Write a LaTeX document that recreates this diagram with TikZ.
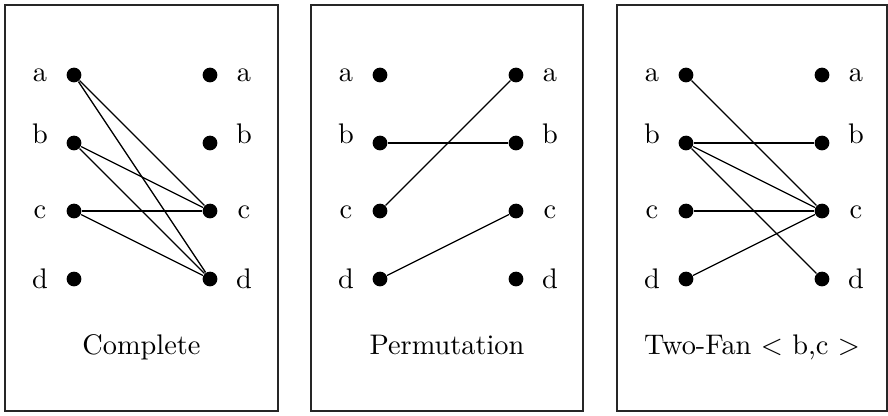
\documentclass[tikz,border=0pt]{standalone}
\usepackage{tikz}
\usetikzlibrary{calc}
\tikzset{
  matchdot/.style={circle,fill=black,inner sep=0pt,minimum size=5.2pt},
  matchlink/.style={black,line width=0.45pt},
  matchbox/.style={black!85,line width=0.55pt},
  matchtag/.style={anchor=base,inner sep=0pt}
}
\newcommand{\matchpanel}[4]{%
  \draw[matchbox] (#2,5) rectangle (#3,411);
  % Labels sit a little off the dot rows, as in the scanned figure.
  \foreach \r/\yy/\yl in {a/75/81,b/143/143,c/211/218,d/279/288} {
    \node[matchdot] (#1L\r) at (#2+69,\yy) {};
    \node[matchdot] (#1R\r) at (#2+205,\yy) {};
    \node[matchtag] (#1Lt\r) at (#2+35,\yl) {\r};
    \node[matchtag] (#1Rt\r) at (#2+239,\yl) {\r};
  }
  \node[matchtag] (#1cap) at ({(#2+#3)/2},354) {#4};
}

\begin{document}
\begin{tikzpicture}[x=0.353pt,y=-0.353pt]
    \useasboundingbox (0,0) rectangle (888,415);
    \matchpanel{cp}{5}{278}{Complete}
    \matchpanel{pm}{311}{583}{Permutation}
    \matchpanel{tf}{617}{887}{Two-Fan $<$ b,c $>$}
    \foreach \s/\t in {a/c,a/d,b/c,b/d,c/c,c/d}
      \draw[matchlink] (cpL\s) -- (cpR\t);
    \foreach \s/\t in {b/b,c/a,d/c}
      \draw[matchlink] (pmL\s) -- (pmR\t);
    \foreach \s/\t in {a/c,b/b,b/c,b/d,c/c,d/c}
      \draw[matchlink] (tfL\s) -- (tfR\t);
  \end{tikzpicture}
\end{document}
